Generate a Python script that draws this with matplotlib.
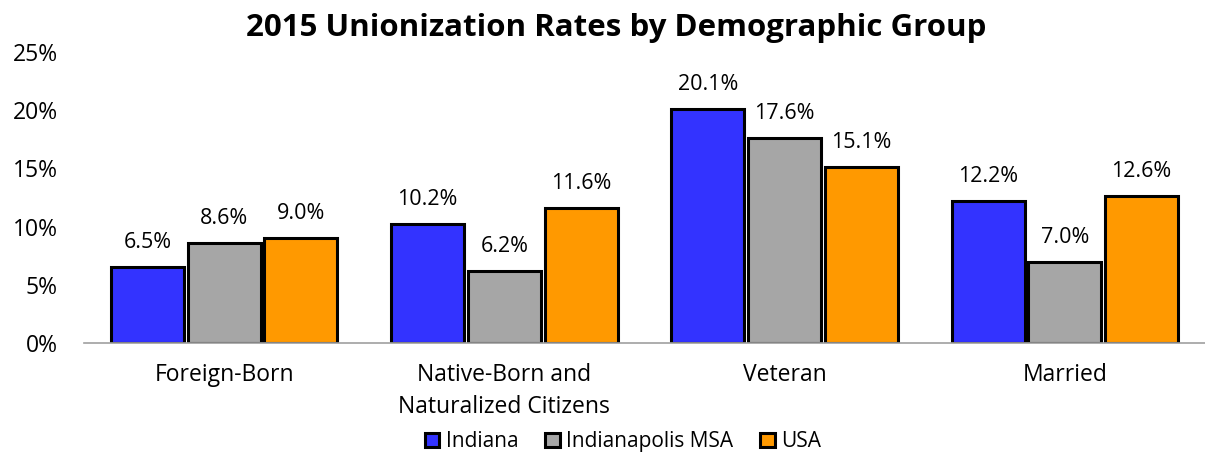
import matplotlib
matplotlib.use("Agg")
import matplotlib.pyplot as plt
import numpy as np

categories = ["Foreign-Born", "Native-Born and\nNaturalized Citizens", "Veteran", "Married"]
series_names = ["Indiana", "Indianapolis MSA", "USA"]
indiana = [6.5, 10.2, 20.1, 12.2]
indy_msa = [8.6, 6.2, 17.6, 7.0]
usa = [9.0, 11.6, 15.1, 12.6]
colors = ["#3333FF", "#A6A6A6", "#FF9900"]

plt.rcParams["font.family"] = ["Open Sans", "DejaVu Sans"]

fig = plt.figure(figsize=(12.05, 4.55), dpi=100)
ax = fig.add_axes([0.0697, 0.246, 0.9303, 0.64])

x = np.arange(len(categories))
width = 0.26
step = 0.274
for i, (vals, name, col) in enumerate(zip([indiana, indy_msa, usa], series_names, colors)):
    pos = x + (i - 1) * step
    bars = ax.bar(pos, vals, width, color=col, edgecolor="black", linewidth=2.2, label=name)
    for b, v in zip(bars, vals):
        ax.annotate(f"{v:.1f}%", (b.get_x() + b.get_width() / 2, v),
                    xytext=(0, 10), textcoords="offset points",
                    ha="center", va="bottom", fontsize=15.5)

ax.set_xlim(-0.5, len(categories) - 0.5)
ax.set_ylim(0, 25)
ax.set_yticks(range(0, 26, 5))
ax.set_yticklabels([f"{t}%" for t in range(0, 26, 5)], fontsize=16.5)
ax.set_xticks(x)
ax.set_xticklabels(categories, fontsize=16.5, va="top", linespacing=1.45)
ax.tick_params(axis="y", length=0, pad=19)
ax.tick_params(axis="x", length=0, pad=14)
for s in ["top", "right", "left"]:
    ax.spines[s].set_visible(False)
ax.spines["bottom"].set_color("#A0A0A0")
ax.spines["bottom"].set_linewidth(1.2)

fig.text(0.511, 0.938, "2015 Unionization Rates by Demographic Group",
         fontsize=22.5, fontweight="bold", ha="center", va="center")

leg = fig.legend(loc="center", bbox_to_anchor=(0.517, 0.029), ncol=3, frameon=False,
                 fontsize=15, handlelength=0.7, handleheight=0.7, handletextpad=0.3,
                 columnspacing=1.3, borderpad=0)

fig.savefig("out.png", dpi=100)
